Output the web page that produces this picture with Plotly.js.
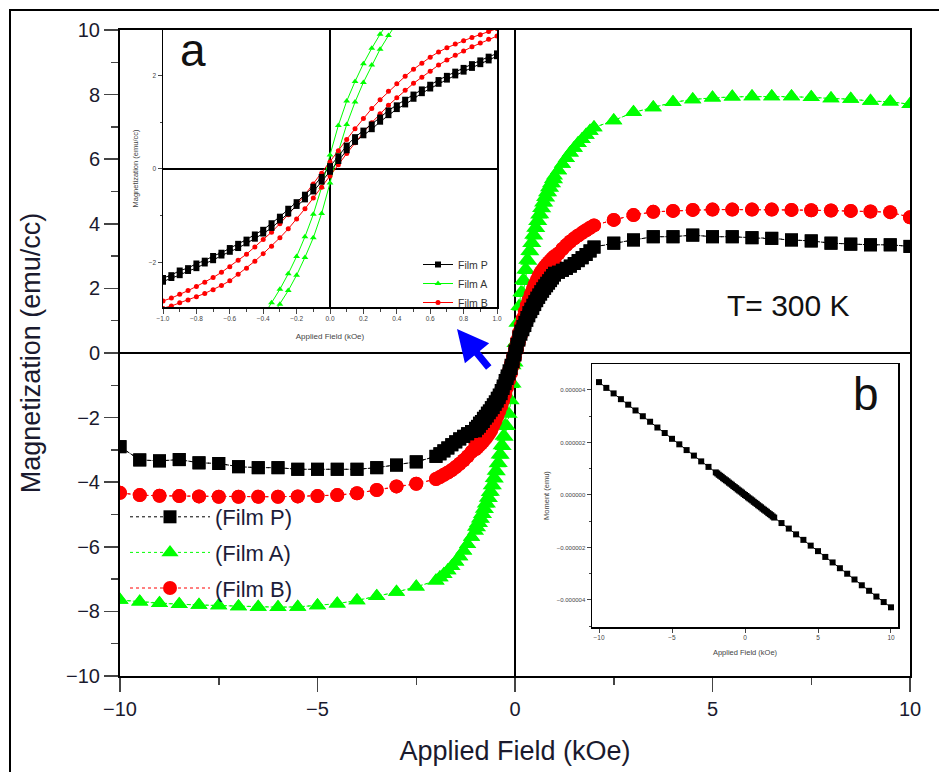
<!DOCTYPE html>
<html><head><meta charset="utf-8">
<script src="https://cdn.plot.ly/plotly-3.0.1.min.js"></script>
<style>html,body{margin:0;padding:0;background:#fff}#chart{width:939px;height:772px}</style>
</head><body><div id="chart"></div>
<script>
// ---- Applied field grid (kOe) ----
const fieldNeg = [-10,-9.5,-9,-8.5,-8,-7.5,-7,-6.5,-6,-5.5,-5,-4.5,-4,-3.5,-3,-2.5,-2,-1.9,-1.8,-1.7,-1.6,-1.5,-1.4,-1.3,-1.2,-1.1];
const fieldInner = [-1,-0.95,-0.9,-0.85,-0.8,-0.75,-0.7,-0.65,-0.6,-0.55,-0.5,-0.45,-0.4,-0.35,-0.3,-0.25,-0.2,-0.15,-0.1,-0.05,0,0.05,0.1,0.15,0.2,0.25,0.3,0.35,0.4,0.45,0.5,0.55,0.6,0.65,0.7,0.75,0.8,0.85,0.9,0.95,1];
const fieldPos = [1.1,1.2,1.3,1.4,1.5,1.6,1.7,1.8,1.9,2,2.5,3,3.5,4,4.5,5,5.5,6,6.5,7,7.5,8,8.5,9,9.5,10];

// ---- Film P (emu/cc) ----
const filmPNeg = [-2.9,-3.31,-3.34,-3.3,-3.4,-3.42,-3.52,-3.55,-3.55,-3.6,-3.6,-3.6,-3.6,-3.55,-3.47,-3.37,-3.2,-3.12,-3.03,-2.94,-2.84,-2.75,-2.66,-2.58,-2.5,-2.43];
const filmPInnerDown = [-2.33,-2.27,-2.17,-2.12,-2.02,-1.96,-1.86,-1.79,-1.69,-1.6,-1.51,-1.4,-1.3,-1.16,-1.02,-0.85,-0.71,-0.55,-0.38,-0.17,0.06,0.27,0.5,0.68,0.82,0.95,1.1,1.25,1.36,1.48,1.59,1.7,1.8,1.9,1.99,2.08,2.16,2.24,2.32,2.4,2.47];
const filmPInnerUp = [-2.41,-2.33,-2.27,-2.18,-2.12,-2.02,-1.95,-1.85,-1.77,-1.69,-1.59,-1.49,-1.38,-1.26,-1.1,-0.95,-0.79,-0.65,-0.48,-0.27,-0.06,0.17,0.4,0.58,0.72,0.85,1.01,1.15,1.28,1.38,1.5,1.62,1.72,1.82,1.91,2.0,2.08,2.16,2.24,2.32,2.41];
const filmPPos = [2.5,2.56,2.62,2.69,2.77,2.86,2.95,3.05,3.16,3.28,3.4,3.5,3.6,3.6,3.65,3.6,3.6,3.57,3.55,3.5,3.47,3.4,3.37,3.35,3.35,3.3];

// ---- Film A (emu/cc) ----
const filmANeg = [-7.65,-7.7,-7.75,-7.78,-7.8,-7.82,-7.85,-7.86,-7.87,-7.86,-7.82,-7.76,-7.66,-7.53,-7.4,-7.24,-7.05,-6.95,-6.85,-6.73,-6.6,-6.46,-6.3,-6.12,-5.92,-5.7];
const filmAInnerDown = [-5.39,-5.27,-5.13,-4.99,-4.83,-4.67,-4.49,-4.31,-4.1,-3.88,-3.65,-3.42,-3.15,-2.86,-2.57,-2.24,-1.87,-1.45,-0.97,-0.39,0.3,0.93,1.45,1.87,2.25,2.58,2.88,3.15,3.4,3.65,3.87,4.08,4.28,4.48,4.65,4.82,4.97,5.12,5.25,5.38,5.49];
const filmAInnerUp = [-5.51,-5.4,-5.27,-5.14,-4.99,-4.84,-4.67,-4.5,-4.3,-4.1,-3.89,-3.67,-3.41,-3.16,-2.89,-2.6,-2.27,-1.89,-1.47,-0.95,-0.3,0.37,0.95,1.43,1.85,2.22,2.56,2.85,3.14,3.4,3.63,3.86,4.08,4.29,4.47,4.65,4.81,4.97,5.11,5.25,5.37];
const filmAPos = [5.65,5.85,6.03,6.2,6.35,6.49,6.62,6.75,6.87,6.98,7.2,7.45,7.6,7.76,7.85,7.9,7.93,7.94,7.94,7.94,7.92,7.88,7.86,7.8,7.78,7.7];

// ---- Film B (emu/cc) ----
const filmBNeg = [-4.33,-4.4,-4.42,-4.43,-4.44,-4.45,-4.45,-4.45,-4.45,-4.44,-4.43,-4.4,-4.34,-4.24,-4.13,-4.05,-3.9,-3.84,-3.77,-3.7,-3.62,-3.53,-3.43,-3.32,-3.2,-3.06];
const filmBInnerDown = [-2.82,-2.76,-2.68,-2.6,-2.51,-2.42,-2.32,-2.21,-2.09,-1.95,-1.82,-1.67,-1.51,-1.35,-1.17,-0.98,-0.77,-0.55,-0.32,-0.09,0.15,0.39,0.63,0.86,1.08,1.29,1.48,1.66,1.82,1.98,2.13,2.26,2.39,2.5,2.59,2.67,2.74,2.81,2.87,2.94,3.0];
const filmBInnerUp = [-2.98,-2.93,-2.86,-2.8,-2.73,-2.66,-2.58,-2.49,-2.39,-2.25,-2.12,-1.97,-1.81,-1.65,-1.47,-1.28,-1.07,-0.85,-0.62,-0.39,-0.15,0.09,0.33,0.56,0.78,0.99,1.18,1.36,1.52,1.68,1.83,1.96,2.09,2.22,2.33,2.43,2.52,2.61,2.69,2.77,2.84];
const filmBPos = [3.08,3.22,3.34,3.45,3.55,3.64,3.72,3.8,3.88,3.95,4.12,4.27,4.37,4.4,4.43,4.44,4.44,4.44,4.44,4.43,4.42,4.41,4.4,4.38,4.36,4.2];

// ---- Inset b: substrate moment (micro-emu) ----
const bField = [-10,-9.5,-9,-8.5,-8,-7.5,-7,-6.5,-6,-5.5,-5,-4.5,-4,-3.5,-3,-2.5,-2,-1.9,-1.8,-1.7,-1.6,-1.5,-1.4,-1.3,-1.2,-1.1,-1,-0.9,-0.8,-0.7,-0.6,-0.5,-0.4,-0.3,-0.2,-0.1,0,0.1,0.2,0.3,0.4,0.5,0.6,0.7,0.8,0.9,1,1.1,1.2,1.3,1.4,1.5,1.6,1.7,1.8,1.9,2,2.5,3,3.5,4,4.5,5,5.5,6,6.5,7,7.5,8,8.5,9,9.5,10];
const bMomentMicroEmu = [4.3,4.08,3.87,3.65,3.44,3.22,3.0,2.79,2.57,2.36,2.14,1.93,1.71,1.5,1.28,1.07,0.86,0.82,0.77,0.73,0.69,0.64,0.6,0.56,0.52,0.47,0.43,0.39,0.34,0.3,0.26,0.21,0.17,0.13,0.09,0.04,0,-0.04,-0.09,-0.13,-0.17,-0.21,-0.26,-0.3,-0.34,-0.39,-0.43,-0.47,-0.52,-0.56,-0.6,-0.64,-0.69,-0.73,-0.77,-0.82,-0.86,-1.07,-1.28,-1.5,-1.71,-1.93,-2.14,-2.36,-2.57,-2.79,-3.0,-3.22,-3.44,-3.65,-3.87,-4.08,-4.28];

const films = [
  {name:'Film A', rank:2, color:'#00ff00', sym:'triangle-up', size:15, isize:6, neg:filmANeg, up:filmAInnerUp, down:filmAInnerDown, pos:filmAPos},
  {name:'Film B', rank:3, color:'#ff0000', sym:'circle', size:14, isize:5, neg:filmBNeg, up:filmBInnerUp, down:filmBInnerDown, pos:filmBPos},
  {name:'Film P', rank:1, color:'#000000', sym:'square', size:13, isize:6, neg:filmPNeg, up:filmPInnerUp, down:filmPInnerDown, pos:filmPPos}
];

function loop(f){
  const xUp = fieldNeg.concat(fieldInner, fieldPos);
  const yUp = f.neg.concat(f.up, f.pos);
  const yDown = f.neg.concat(f.down, f.pos);
  return {x: xUp.slice().reverse().concat(xUp), y: yDown.slice().reverse().concat(yUp)};
}

const FONT = 'Liberation Sans, Arial, sans-serif';
const traces = [];
films.forEach(f => {
  const d = loop(f);
  traces.push({x:d.x, y:d.y, xaxis:'x', yaxis:'y', type:'scatter', mode:'lines+markers',
    name:'(' + f.name + ')', legend:'legend', legendgroup:'m'+f.rank, legendrank:f.rank,
    line:{color:f.color, width:1, dash:'dot'}, marker:{symbol:f.sym, size:f.size, color:f.color}});
});
films.forEach(f => {
  const d = loop(f);
  traces.push({x:d.x, y:d.y, xaxis:'x2', yaxis:'y2', type:'scatter', mode:'lines+markers',
    name:f.name, legend:'legend2', legendgroup:'i'+f.rank, legendrank:f.rank,
    line:{color:f.color, width:1}, marker:{symbol:f.sym, size:f.isize, color:f.color}});
});
traces.push({x:bField, y:bMomentMicroEmu.map(v => v*1e-6), xaxis:'x3', yaxis:'y3', type:'scatter',
  mode:'lines+markers', showlegend:false, line:{color:'#000', width:1}, marker:{symbol:'square', size:6, color:'#000'}});

const W = 790, H = 646, L = 120, T = 30;
function px2x(p){ return (p - L) / W; }
function py2y(p){ return (T + H - p) / H; }

const layout = {
  width:939, height:772, margin:{l:120, r:29, t:30, b:96},
  paper_bgcolor:'#fff', plot_bgcolor:'#fff',
  font:{family:FONT, color:'#111'},
  showlegend:true,
  xaxis:{domain:[0,1], range:[-10,10], dtick:5, tick0:0, ticks:'outside', ticklen:14, tickwidth:1.5,
    minor:{dtick:2.5, ticklen:7, ticks:'outside', tickwidth:1.5}, showline:true, linewidth:2, linecolor:'#000', mirror:true,
    showgrid:false, zeroline:true, zerolinecolor:'#000', zerolinewidth:1.5,
    tickfont:{size:20, family:FONT, color:'#1a1a2e'},
    title:{text:'Applied Field (kOe)', font:{size:27, family:FONT, color:'#1a1a2e'}, standoff:22}},
  yaxis:{domain:[0,1], range:[-10,10], dtick:2, ticks:'outside', ticklen:14, tickwidth:1.5,
    minor:{dtick:1, ticklen:7, ticks:'outside', tickwidth:1.5}, showline:true, linewidth:2, linecolor:'#000', mirror:true,
    showgrid:false, zeroline:true, zerolinecolor:'#000', zerolinewidth:1.5,
    tickfont:{size:20, family:FONT, color:'#1a1a2e'},
    title:{text:'Magnetization (emu/cc)', font:{size:27, family:FONT, color:'#1a1a2e'}, standoff:18}},
  xaxis2:{domain:[px2x(163), px2x(497)], anchor:'y2', range:[-1,1], dtick:0.2, tickformat:'.1f',
    ticks:'outside', ticklen:5, minor:{dtick:0.1, ticklen:3, ticks:'outside'},
    showline:true, linewidth:1.5, linecolor:'#000', mirror:true, showgrid:false,
    zeroline:true, zerolinecolor:'#000', zerolinewidth:1.5, tickfont:{size:6.5, color:'#444'},
    title:{text:'Applied Field (kOe)', font:{size:8, color:'#444'}, standoff:12}},
  yaxis2:{domain:[py2y(307), 1], anchor:'x2', range:[-2.95,2.97], dtick:2,
    ticks:'outside', ticklen:4, minor:{dtick:1, ticklen:2, ticks:'outside'},
    showline:true, linewidth:1.5, linecolor:'#000', mirror:true, showgrid:false,
    zeroline:true, zerolinecolor:'#000', zerolinewidth:1.5, tickfont:{size:6.5, color:'#444'},
    title:{text:'Magnetization (emu/cc)', font:{size:7.5, color:'#444'}, standoff:9}},
  xaxis3:{domain:[px2x(592), px2x(898)], anchor:'y3', range:[-10.48,10.48], dtick:5, tick0:0,
    ticks:'outside', ticklen:4, showline:true, linewidth:1.5, linecolor:'#000', mirror:true,
    showgrid:false, zeroline:false, tickfont:{size:6.5, color:'#444'},
    title:{text:'Applied Field (kOe)', font:{size:7.5, color:'#444'}, standoff:9}},
  yaxis3:{domain:[py2y(627), py2y(364)], anchor:'x3', range:[-5.03e-6,4.99e-6], dtick:2e-6, tick0:0, tickformat:'.6f',
    ticks:'outside', ticklen:4, minor:{dtick:1e-6, ticklen:2, ticks:'outside'},
    showline:true, linewidth:1.5, linecolor:'#000', mirror:true, showgrid:false, zeroline:false,
    tickfont:{size:6, color:'#444'},
    title:{text:'Moment (emu)', font:{size:7.5, color:'#444'}, standoff:6}},
  legend:{x:px2x(125), y:py2y(496), xanchor:'left', yanchor:'top', bgcolor:'rgba(0,0,0,0)',
    font:{size:22, family:FONT, color:'#1c1c3a'}, tracegroupgap:4, itemwidth:80, traceorder:'grouped'},
  legend2:{x:px2x(418), y:py2y(250), xanchor:'left', yanchor:'top', bgcolor:'rgba(0,0,0,0)',
    font:{size:10.5, family:FONT, color:'#333'}, tracegroupgap:0, itemwidth:30, traceorder:'grouped'},
  annotations:[
    {xref:'paper', yref:'paper', x:px2x(193), y:py2y(50), xanchor:'center', yanchor:'middle', text:'a', showarrow:false, font:{size:46, family:FONT, color:'#111'}},
    {xref:'paper', yref:'paper', x:px2x(866), y:py2y(394), xanchor:'center', yanchor:'middle', text:'b', showarrow:false, font:{size:46, family:FONT, color:'#111'}},
    {xref:'paper', yref:'paper', x:px2x(788), y:py2y(305), xanchor:'center', yanchor:'middle', text:'T= 300 K', showarrow:false, font:{size:30, family:FONT, color:'#111'}},
    {xref:'paper', yref:'paper', x:px2x(457), y:py2y(329), text:'', showarrow:true, ax:33, ay:40,
      arrowcolor:'#0000ff', arrowwidth:7, arrowhead:2, arrowsize:0.9}
  ],
  shapes:[
    {type:'rect', xref:'paper', yref:'paper', x0:px2x(10), x1:1.2, y0:-0.3, y1:py2y(10), line:{color:'#000', width:2}, fillcolor:'rgba(0,0,0,0)'}
  ]
};

Plotly.newPlot('chart', traces, layout, {displayModeBar:false, staticPlot:true});
</script>
</body></html>
